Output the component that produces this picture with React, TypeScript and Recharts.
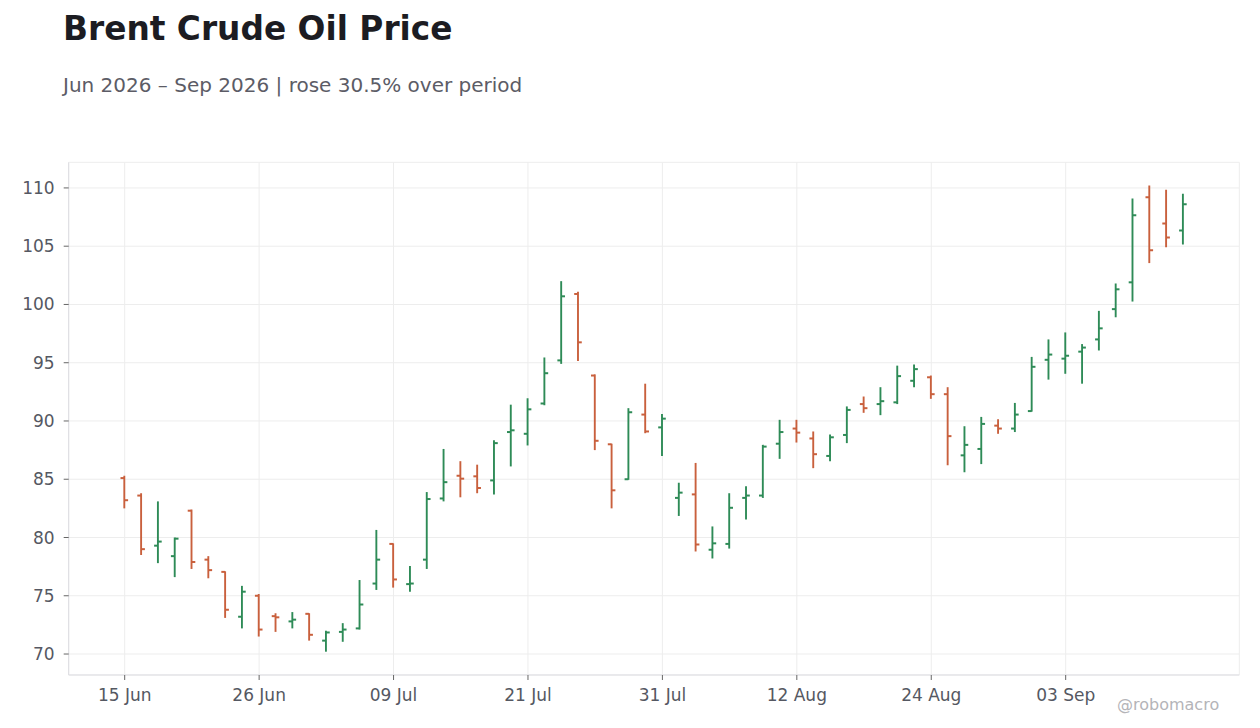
import { Bar, CartesianGrid, ComposedChart, XAxis, YAxis } from "recharts";

// trading days (NYSE calendar, holidays skipped)
const dates = [
  "15 Jun", "16 Jun", "17 Jun", "18 Jun", "22 Jun", "23 Jun", "24 Jun", "25 Jun",
  "26 Jun", "29 Jun", "30 Jun", "01 Jul", "02 Jul", "06 Jul", "07 Jul", "08 Jul",
  "09 Jul", "10 Jul", "13 Jul", "14 Jul", "15 Jul", "16 Jul", "17 Jul", "20 Jul",
  "21 Jul", "22 Jul", "23 Jul", "24 Jul", "27 Jul", "28 Jul", "29 Jul", "30 Jul",
  "31 Jul", "03 Aug", "04 Aug", "05 Aug", "06 Aug", "07 Aug", "10 Aug", "11 Aug",
  "12 Aug", "13 Aug", "14 Aug", "17 Aug", "18 Aug", "19 Aug", "20 Aug", "21 Aug",
  "24 Aug", "25 Aug", "26 Aug", "27 Aug", "28 Aug", "31 Aug", "01 Sep", "02 Sep",
  "03 Sep", "04 Sep", "08 Sep", "09 Sep", "10 Sep", "11 Sep", "14 Sep", "15 Sep",
];

const opens = [
  85.1, 83.6, 79.3, 78.4, 82.3, 78.1, 77.05, 73.2, 75.0, 73.25, 72.8, 73.45, 71.15, 71.9, 72.2, 76.05,
  79.45, 76.0, 78.1, 83.35, 85.3, 85.25, 84.9, 89.05, 88.9, 91.5, 95.2, 100.9, 93.9, 88.0, 85.0, 90.55,
  89.45, 83.4, 83.7, 78.95, 79.45, 83.4, 83.6, 88.05, 89.35, 88.5, 87.0, 88.8, 91.45, 91.45, 91.6, 93.45,
  93.75, 92.3, 87.05, 87.6, 89.6, 89.35, 90.85, 95.25, 95.35, 95.95, 97.0, 99.6, 101.9, 109.2, 106.95, 106.35,
];
const highs = [
  85.3, 83.8, 83.1, 80.0, 82.4, 78.4, 77.1, 75.85, 75.15, 73.5, 73.6, 73.5, 72.0, 72.65, 76.35, 80.65,
  79.5, 77.55, 83.9, 87.6, 86.55, 86.25, 88.35, 91.4, 91.95, 95.45, 102.0, 101.1, 94.0, 88.05, 91.1, 93.2,
  90.6, 84.7, 86.4, 80.95, 83.8, 84.4, 87.95, 90.1, 90.1, 89.1, 88.85, 91.25, 92.1, 92.9, 94.75, 94.85,
  93.9, 92.9, 89.55, 90.35, 90.15, 91.55, 95.5, 97.0, 97.6, 96.6, 99.45, 101.8, 109.1, 110.2, 109.85, 109.5,
];
const lows = [
  82.5, 78.5, 77.8, 76.6, 77.3, 76.5, 73.1, 72.2, 71.5, 71.9, 72.2, 71.15, 70.2, 71.05, 72.1, 75.5,
  75.7, 75.35, 77.3, 83.1, 83.45, 83.8, 83.7, 86.1, 87.9, 91.35, 94.9, 95.15, 87.5, 82.5, 84.95, 88.95,
  87.0, 81.85, 78.8, 78.2, 79.05, 81.55, 83.4, 86.75, 88.15, 85.95, 86.55, 88.1, 90.7, 90.5, 91.45, 92.9,
  91.9, 86.2, 85.6, 86.3, 88.9, 89.05, 90.8, 93.55, 94.05, 93.2, 96.05, 98.9, 100.25, 103.55, 104.9, 105.15,
];
const closes = [
  83.2, 79.0, 79.65, 79.9, 77.9, 77.2, 73.8, 75.35, 72.1, 73.15, 72.95, 71.65, 71.85, 72.1, 74.25, 78.1,
  76.4, 76.05, 83.3, 84.75, 85.05, 84.25, 88.1, 89.2, 91.0, 94.1, 100.7, 96.75, 88.3, 84.05, 90.75, 89.1,
  90.2, 83.85, 79.4, 79.5, 82.55, 83.6, 87.8, 89.05, 89.0, 87.15, 88.6, 90.95, 91.1, 91.7, 93.85, 94.45,
  92.3, 88.7, 87.95, 89.75, 89.35, 90.55, 94.65, 95.7, 95.6, 96.3, 97.95, 101.3, 107.65, 104.65, 105.75, 108.6,
];

const tickDates = ["15 Jun", "26 Jun", "09 Jul", "21 Jul", "31 Jul", "12 Aug", "24 Aug", "03 Sep"];
const priceTicks = [70, 75, 80, 85, 90, 95, 100, 105, 110];

type Row = { date: string; open: number; high: number; low: number; close: number };

const rows: Row[] = dates.map((date, i) => ({
  date,
  open: opens[i],
  high: highs[i],
  low: lows[i],
  close: closes[i],
}));

const UP = "#2e8b57";
const DOWN = "#c9603d";
const BORDER = "#dddde2";
const TICK_TEXT = "#555862";
const Y_DOMAIN: [number, number] = [68.2, 112.2];

// draws one OHLC bar: high-low stem, open tick left, close tick right
function OhlcBar(props: any) {
  const { x, y, width, height, payload } = props;
  if (!payload || height == null) return null;
  const top = Math.min(y, y + height);
  const span = Math.abs(height);
  const cx = x + width / 2;
  const range = payload.high - payload.low;
  const toPx = (v: number) => (range > 0 ? top + ((payload.high - v) / range) * span : top);
  const color = payload.close >= payload.open ? UP : DOWN;
  const oy = toPx(payload.open);
  const cy = toPx(payload.close);
  return (
    <g>
      <line x1={cx} x2={cx} y1={top} y2={top + span} stroke={color} strokeWidth={1.9} />
      <line x1={cx - 3.8} x2={cx} y1={oy} y2={oy} stroke={color} strokeWidth={2} />
      <line x1={cx} x2={cx + 3.8} y1={cy} y2={cy} stroke={color} strokeWidth={2} />
    </g>
  );
}

export default function App() {
  return (
    <div
      style={{
        position: "absolute",
        left: 0,
        top: 0,
        width: 1260,
        height: 728,
        background: "#fff",
        fontFamily: "'DejaVu Sans', sans-serif",
      }}
    >
      <ComposedChart
        width={1260}
        height={728}
        data={rows}
        margin={{ top: 162.3, right: 20.7, bottom: 23, left: 8.7 }}
      >
        <CartesianGrid stroke="#ededed" />
        <XAxis
          dataKey="date"
          ticks={tickDates}
          interval={0}
          padding={{ left: 47.6, right: 47.6 }}
          height={30}
          axisLine={{ stroke: BORDER }}
          tickLine={{ stroke: "#666" }}
          tickSize={5}
          tickMargin={9}
          tick={{ fill: TICK_TEXT, fontSize: 17 }}
        />
        <XAxis
          xAxisId="top"
          orientation="top"
          dataKey="date"
          height={0}
          tick={false}
          tickLine={false}
          axisLine={{ stroke: BORDER }}
        />
        <YAxis
          domain={Y_DOMAIN}
          ticks={priceTicks}
          allowDataOverflow
          width={60}
          axisLine={{ stroke: BORDER }}
          tickLine={{ stroke: "#666" }}
          tickSize={5}
          tickMargin={9}
          tick={{ fill: TICK_TEXT, fontSize: 17 }}
        />
        <YAxis
          yAxisId="right"
          orientation="right"
          domain={Y_DOMAIN}
          width={0}
          tick={false}
          tickLine={false}
          axisLine={{ stroke: BORDER }}
        />
        <Bar
          dataKey={(d: Row) => [d.low, d.high]}
          barSize={4}
          shape={OhlcBar}
          isAnimationActive={false}
        />
      </ComposedChart>
      <svg
        width={1260}
        height={728}
        style={{ position: "absolute", left: 0, top: 0, pointerEvents: "none" }}
      >
        <text x={63} y={40} fontSize={32.8} fontWeight="bold" fill="#1c1c22">
          Brent Crude Oil Price
        </text>
        <text x={63} y={92} fontSize={20} fill="#5c5c66">
          Jun 2026 – Sep 2026 | rose 30.5% over period
        </text>
        <text x={1117} y={710} fontSize={16} fill="#b4b4b8">
          @robomacro
        </text>
      </svg>
    </div>
  );
}
